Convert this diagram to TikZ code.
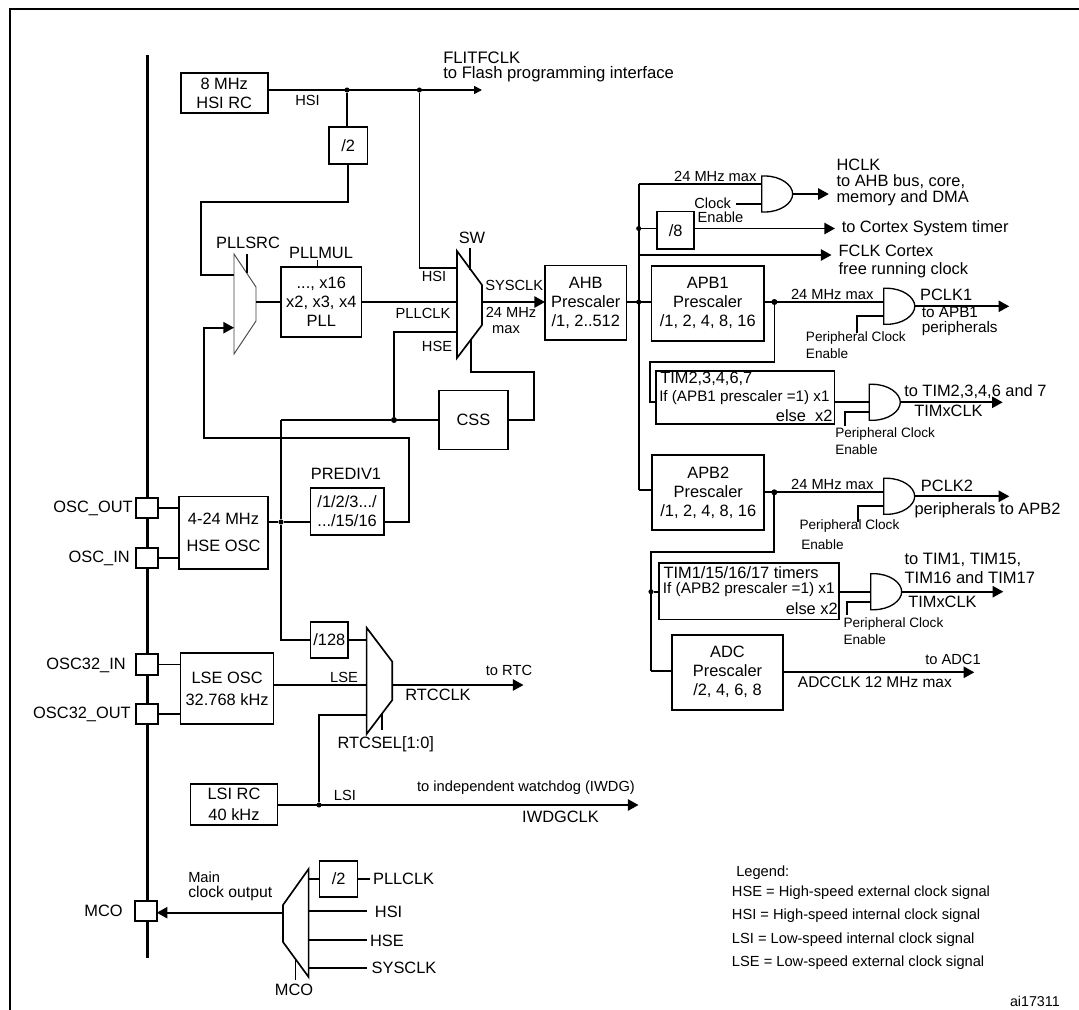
\documentclass[tikz,border=0pt]{standalone}
\usepackage{fontspec}
\setmainfont{Liberation Sans}
\usetikzlibrary{arrows.meta}

\begin{document}
\begin{tikzpicture}[
    x=0.75pt, y=-0.75pt,
    box/.style={draw, rectangle, line width=1.25pt, inner sep=0pt, outer sep=0pt, fill=white, align=center, big},
    sz/.style 2 args={minimum width=#1*0.75pt, minimum height=#2*0.75pt},
    big/.style={font=\fontsize{12.3}{14.3}\selectfont},
    mid/.style={font=\fontsize{11}{12.5}\selectfont},
    small/.style={font=\fontsize{10.2}{12.7}\selectfont},
    txt/.style={inner sep=0pt, align=left},
    wire/.style={line width=1.25pt},
    arrow/.style={line width=1.25pt, -{Triangle[length=8pt, width=8.5pt]}},
    tick/.style={line width=1pt},
    mux/.style={draw, line width=1.25pt, fill=white, line join=miter},
    pad/.style={draw, rectangle, line width=1.4pt, fill=white, inner sep=0pt, outer sep=0pt},
    dot/.style={circle, fill, inner sep=0pt, outer sep=0pt, minimum size=3.8pt},
    andg/.pic={
        \draw[line width=1pt, fill=white] (0,0) -- (3,0) .. controls (19,0) and (31,9) .. (31,18)
            .. controls (31,27) and (19,36) .. (3,36) -- (0,36) -- cycle;
        \coordinate (-in) at (0,18);
        \coordinate (-out) at (31,18);
    }
]
    \useasboundingbox (0,0) rectangle (1079,1010);

    % Frame and pin bar
    \draw[line width=1.4pt] (9.6,1010) -- (9.6,9) -- (1079,9);
    \coordinate (bartop) at (147.4,55);
    \coordinate (barend) at (147.4,958);
    \draw[line width=2.4pt] (bartop) -- (barend);

    % Pads
    \node[pad, sz={22}{20}] (oscout) at (146.8,508) {};
    \node[pad, sz={22}{20}] (oscin) at (146.8,558) {};
    \node[pad, sz={22}{21}] (osc32in) at (146.8,664.5) {};
    \node[pad, sz={22}{20}] (osc32out) at (146.8,714) {};
    \node[pad, sz={22}{20}] (mcopad) at (145.8,911) {};
    \node[txt, big, anchor=east] (oscoutl) at (133,508) {OSC\_OUT};
    \node[txt, big, anchor=east] (oscinl) at (130,558) {OSC\_IN};
    \node[txt, big, anchor=east] (osc32inl) at (126,665) {OSC32\_IN};
    \node[txt, big, anchor=east] (osc32outl) at (131,714) {OSC32\_OUT};
    \node[txt, big, anchor=east] (mcol) at (123,911) {MCO};

    % HSI
    \node[box, sz={87}{40}] (hsirc) at (224.2,93) {8 MHz\\HSI RC};
    \node[box, sz={38.4}{37}] (divtwo) at (348.2,145.5) {/2};
    \node[dot] (hsidot) at (347,90) {};
    \node[dot] (flashdot) at (419.4,90) {};
    \coordinate (flitf) at (482,90);
    \draw[line width=1.25pt, -{Triangle[length=6pt, width=6pt]}] (hsirc.east |- hsidot) -- (flitf);
    \draw[wire] (hsidot) -- (hsidot |- divtwo.north);
    \node[txt, mid] (hsil) at (307.5,100) {HSI};
    \node[txt, big, anchor=west, font=\fontsize{12.5}{11.2}\selectfont] (flitfl) at (443,67) {FLITFCLK\\to Flash programming interface};

    % PLL
    \coordinate (srchsi) at (234,275);
    \coordinate (srchse) at (234,327.7);
    \coordinate (srcout) at (256,302);
    \coordinate (divcor) at (201,202);
    \draw[wire] (divtwo.south) |- (divcor) |- (srchsi);
    \draw[line width=0.7pt, fill=white, draw=black!75] (234,254) -- (256,287) -- (256,321) -- (234,354) -- cycle;
    \coordinate (srctop) at (247,254);
    \coordinate (srctick) at (247,273);
    \draw[tick] (srctop) -- (srctick);
    \node[txt, big] (pllsrcl) at (248,243) {PLLSRC};
    \node[box, sz={80.6}{70}] (pll) at (321.3,302) {..., x16\\x2, x3, x4\\PLL};
    \draw[wire] (srcout) -- (pll.west);
    \node[txt, big] (pllmull) at (321,253) {PLLMUL};
    \coordinate (multick) at (317.5,260);
    \draw[tick] (multick) -- (multick |- pll.north);

    % SW multiplexer
    \coordinate (swhsi) at (457,268);
    \coordinate (swhse) at (457,332);
    \coordinate (swout) at (482,302);
    \coordinate (swcss) at (470.7,340);
    \draw[wire] (flashdot) |- (swhsi);
    \draw[wire] (pll.east) -- (swout -| swhsi);
    \draw[mux] (457,251) -- (482,285) -- (482,325) -- (457,358) -- cycle;
    \coordinate (swtop) at (470,248);
    \coordinate (swtick) at (470,270);
    \draw[tick] (swtop) -- (swtick);
    \node[txt, big] (swl) at (472,238) {SW};
    \node[txt, mid] (hsil2) at (434,276) {HSI};
    \node[txt, mid] (pllclkl) at (423,313) {PLLCLK};
    \node[txt, mid] (hsel) at (437,346) {HSE};
    \node[txt, mid, anchor=west] (sysclkl) at (485,285.7) {SYSCLK};
    \node[txt, mid, anchor=west] (mhzl) at (485.5,312.7) {24 MHz};
    \node[txt, mid] (maxl) at (506,330) {max};

    % CSS
    \node[box, sz={68.4}{59.3}] (css) at (473.5,420) {CSS};
    \node[dot, minimum size=4.5pt] (cssdot) at (394,420) {};
    \coordinate (csscor) at (281,420);
    \coordinate (cssup) at (534,371.7);
    \draw[wire] (csscor) -- (cssdot) -- (css.west);
    \draw[wire] (cssdot) |- (swhse);
    \draw[wire] (css.east) -| (cssup) -| (swcss);

    % HSE
    \node[box, sz={89.6}{72.3}] (hseosc) at (223.5,532.8) {4-24 MHz\\[6pt]HSE OSC};
    \node[box, sz={73.4}{47}] (prediv) at (347.1,511.5) {/1/2/3.../\\.../15/16};
    \node[txt, big] (predivl) at (346,474) {PREDIV1};
    \node[dot] (hsedot) at (281,522) {};
    \coordinate (preout) at (408.7,522);
    \coordinate (preret) at (204,438);
    \draw[wire] (hseosc.east |- hsedot) -- (hsedot) -- (prediv.west |- hsedot);
    \draw[arrow] (prediv.east |- hsedot) -- (preout) |- (preret) |- (srchse);
    \draw[wire] (hsedot) -- (csscor);
    \draw[wire] (oscout.east) -- (oscout.east -| hseosc.west);
    \draw[wire] (oscin.east) -- (oscin.east -| hseosc.west);

    % LSE and RTC
    \node[box, sz={37.9}{36}] (divrtc) at (329.3,640) {/128};
    \node[box, sz={93}{71.6}] (lseosc) at (227.1,688.5) {LSE OSC\\[2pt]32.768 kHz};
    \coordinate (rtchse) at (366.6,640);
    \coordinate (rtclse) at (366.6,685);
    \coordinate (rtclsi) at (366.6,715);
    \coordinate (rtcout) at (392.3,685);
    \coordinate (rtctip) at (523.5,685);
    \draw[wire] (hsedot) |- (divrtc.west);
    \draw[wire] (divrtc.east) -- (rtchse);
    \draw[wire] (lseosc.east |- rtclse) -- (rtclse);
    \draw[mux] (366.6,627.7) -- (392.3,661.7) -- (392.3,700) -- (366.6,734) -- cycle;
    \coordinate (rtcslant) at (382,713);
    \coordinate (rtctick) at (382,730);
    \draw[tick] (rtcslant) -- (rtctick);
    \draw[arrow] (rtcout) -- (rtctip);
    \draw[wire] (osc32in.east) -- (osc32in.east -| lseosc.west);
    \draw[wire] (osc32out.east) -- (osc32out.east -| lseosc.west);
    \node[txt, mid] (lsel) at (344,677.7) {LSE};
    \node[txt, mid] (rtcl) at (509,670.7) {to RTC};
    \node[txt, big] (rtcclkl) at (438,695) {RTCCLK};
    \node[txt, big] (rtcsell) at (385.8,744) {RTCSEL[1:0]};

    % LSI
    \node[box, sz={87}{41}] (lsirc) at (234,804.5) {LSI RC\\[1pt]40 kHz};
    \node[dot] (lsidot) at (319,805) {};
    \coordinate (lsitip) at (638.5,805);
    \draw[arrow] (lsirc.east |- lsidot) -- (lsitip);
    \draw[wire] (lsidot) |- (rtclsi);
    \node[txt, mid] (lsil) at (345,795) {LSI};
    \node[txt, mid] (iwdgl) at (526,788) {to independent watchdog (IWDG)};
    \node[txt, big] (iwdgclk) at (560.5,817) {IWDGCLK};

    % MCO
    \node[box, sz={38}{36}] (divmco) at (338.6,879) {/2};
    \coordinate (mcoout) at (283,912.7);
    \coordinate (mcopll) at (308.6,879);
    \coordinate (mcohsi) at (308.6,911);
    \coordinate (mcohse) at (308.6,940.3);
    \coordinate (mcosys) at (308.6,967.7);
    \coordinate (pllend) at (370,879);
    \coordinate (hsiend) at (367,911);
    \coordinate (hseend) at (367,940.3);
    \coordinate (sysend) at (367,967.7);
    \draw[arrow] (mcoout) -- (mcoout -| mcopad.east);
    \draw[wire] (mcopll) -- (divmco.west);
    \draw[wire] (divmco.east) -- (pllend);
    \draw[wire] (mcohsi) -- (hsiend);
    \draw[wire] (mcohse) -- (hseend);
    \draw[wire] (mcosys) -- (sysend);
    \draw[mux] (308.6,869) -- (283,905) -- (283,942) -- (308.6,977) -- cycle;
    \coordinate (mcoslant) at (295.5,959);
    \coordinate (mcotick) at (295.5,980);
    \draw[tick] (mcoslant) -- (mcotick);
    \node[txt, mid, anchor=west] (mainl) at (188,877) {Main};
    \node[txt, mid, anchor=west, font=\fontsize{11.8}{13}\selectfont] (outl) at (188,893) {clock output};
    \node[txt, big, anchor=west] (pllclkm) at (372.8,879) {PLLCLK};
    \node[txt, big] (hsim) at (388.6,912) {HSI};
    \node[txt, big] (hsem) at (387,941) {HSE};
    \node[txt, big, anchor=west] (sysm) at (371.4,968) {SYSCLK};
    \node[txt, big] (mcom) at (294,990) {MCO};

    % AHB prescaler and trunk
    \coordinate (sysin) at (545,302);
    \node[box, sz={81.6}{74.3}] (ahb) at (585.8,302.8) {AHB\\Prescaler\\/1, 2..512};
    \draw[arrow] (swout) -- (sysin);
    \node[dot] (apbdot) at (638.7,302) {};
    \node[box, sz={112.3}{75}] (apba) at (707.8,303.2) {APB1\\Prescaler\\/1, 2, 4, 8, 16};
    \draw[wire] (ahb.east |- apbdot) -- (apba.west |- apbdot);
    \coordinate (trtop) at (638.7,184.3);
    \coordinate (trbot) at (638.7,490);
    \node[dot] (divdot) at (638.7,228.5) {};
    \coordinate (fclkfrom) at (638.7,255);
    \draw[wire] (trtop) -- (trbot);

    % HCLK
    \pic (gatea) at (761.7,176) {andg};
    \coordinate (ceend) at (736,203.7);
    \coordinate (hclktip) at (828.8,194);
    \draw[wire] (trtop) -- (gatea-in |- trtop);
    \draw[wire] (ceend) -- (gatea-in |- ceend);
    \draw[arrow] (gatea-out) -- (hclktip);
    \node[txt, mid] (mhza) at (715.3,176) {24 MHz max};
    \node[txt, mid] (clkl) at (712.6,203) {Clock};
    \node[txt, mid] (enal) at (720.5,217) {Enable};
    \node[txt, big, anchor=west, font=\fontsize{12.3}{12}\selectfont] (hclkl) at (836.3,182.5) {HCLK\\to AHB bus, core,\\memory and DMA};

    % Cortex timer and FCLK
    \node[box, sz={36.8}{37.3}] (diveight) at (675.6,230.3) {/8};
    \coordinate (cortip) at (835,228.5);
    \coordinate (fclktip) at (831.5,255);
    \draw[wire] (divdot) -- (diveight.west |- divdot);
    \draw[arrow] (diveight.east |- divdot) -- (cortip);
    \draw[arrow] (fclkfrom) -- (fclktip);
    \node[txt, big, anchor=west] (corl) at (841.5,228) {to Cortex System timer};
    \node[txt, big, anchor=west] (fclkl) at (838.4,251) {FCLK Cortex};
    \node[txt, big, anchor=west] (frl) at (838.4,270) {free running clock};

    % APB1 branch
    \pic (gateb) at (883.8,288.3) {andg};
    \node[dot, minimum size=4.5pt] (apbadot) at (774.4,302) {};
    \coordinate (enbelow) at (857.3,333);
    \coordinate (enbin) at (883.8,316.3);
    \coordinate (pclkatip) at (1009.2,306.3);
    \draw[wire] (apba.east |- apbadot) -- (gateb-in |- apbadot);
    \draw[wire] (enbin) -| (enbelow);
    \draw[arrow] (gateb-out) -- (pclkatip);
    \node[txt, mid] (mhzb) at (832.2,294) {24 MHz max};
    \node[txt, big, anchor=west] (pclkal) at (919.9,295) {PCLK1};
    \node[txt, mid, anchor=west, font=\fontsize{11.5}{11.5}\selectfont] (toapba) at (921.5,321.5) {to APB1\\peripherals};
    \node[txt, small, anchor=west] (enbl) at (805.7,345.5) {Peripheral Clock\\Enable};

    % TIM2,3,4,6,7
    \node[box, sz={178.3}{53.6}] (tima) at (745.2,397.5) {};
    \coordinate (timacor) at (775.5,361.7);
    \coordinate (timabend) at (650,361.7);
    \coordinate (timain) at (650,401.7);
    \coordinate (enctip) at (845,426);
    \coordinate (encin) at (869.3,411.7);
    \coordinate (timatip) at (1002.7,402.3);
    \draw[wire] (apbadot) |- (timabend) -- (timain) -- (timain -| tima.west);
    \pic (gatec) at (869.3,384.3) {andg};
    \draw[wire] (tima.east |- gatec-in) -- (gatec-in);
    \draw[wire] (encin) -| (enctip);
    \draw[arrow] (gatec-out) -- (timatip);
    \node[txt, big, anchor=west] (timal) at (660,379.3) {TIM2,3,4,6,7};
    \node[txt, mid, anchor=west, font=\fontsize{11.4}{13}\selectfont] (ifal) at (659,397.5) {If (APB1 prescaler =1) x1};
    \node[txt, big, anchor=east] (elsea) at (832.7,416) {else\ \ x2};
    \node[txt, big, anchor=west] (totima) at (904,391.7) {to TIM2,3,4,6 and 7};
    \node[txt, big, anchor=west] (timclka) at (914,411) {TIMxCLK};
    \node[txt, small, anchor=west] (encl) at (835,441) {Peripheral Clock\\Enable};

    % APB2 branch
    \node[box, sz={112}{75}] (apbb) at (708.3,492.5) {APB2\\Prescaler\\/1, 2, 4, 8, 16};
    \draw[wire] (trbot) -- (trbot -| apbb.west);
    \pic (gated) at (883.7,478.3) {andg};
    \node[dot, minimum size=4.5pt] (apbbdot) at (774.3,492.3) {};
    \coordinate (endbelow) at (857.7,521.7);
    \coordinate (endin) at (883.7,506);
    \coordinate (pclkbtip) at (1009.3,496.3);
    \draw[wire] (apbb.east |- apbbdot) -- (gated-in |- apbbdot);
    \draw[wire] (endin) -| (endbelow);
    \draw[arrow] (gated-out) -- (pclkbtip);
    \node[txt, mid] (mhzc) at (832.3,484) {24 MHz max};
    \node[txt, big, anchor=west] (pclkbl) at (920.7,485.7) {PCLK2};
    \node[txt, big, anchor=west] (toapbb) at (914.3,510.7) {peripherals to APB2};
    \node[txt, small, anchor=west] (endl) at (799.3,526) {Peripheral Clock};
    \node[txt, small, anchor=west] (endl2) at (801,545) {Enable};

    % TIM1/15/16/17
    \node[box, sz={179.4}{56.7}] (timb) at (749,591.3) {};
    \node[dot] (timbdot) at (651,591.7) {};
    \coordinate (timbcor) at (651,552);
    \coordinate (adcin) at (651,670.7);
    \coordinate (enetip) at (846.7,615);
    \coordinate (enein) at (870.7,601.7);
    \coordinate (timbtip) at (1003.3,591.7);
    \draw[wire] (apbbdot) |- (timbcor) -- (adcin);
    \draw[wire] (timbdot) -- (timb.west |- timbdot);
    \pic (gatee) at (870.7,573.7) {andg};
    \draw[wire] (timb.east |- gatee-in) -- (gatee-in);
    \draw[wire] (enein) -| (enetip);
    \draw[arrow] (gatee-out) -- (timbtip);
    \node[txt, big, anchor=west] (timbl) at (663.3,572.5) {TIM1/15/16/17 timers};
    \node[txt, mid, anchor=west, font=\fontsize{11.5}{13}\selectfont] (ifbl) at (662.7,589.7) {If (APB2 prescaler =1) x1};
    \node[txt, big, anchor=east] (elseb) at (838,609) {else x2};
    \node[txt, big, anchor=west, font=\fontsize{12.4}{14.2}\selectfont] (totimb) at (904.3,568.5) {to TIM1, TIM15,\\TIM16 and TIM17};
    \node[txt, big, anchor=west] (timclkb) at (908,602) {TIMxCLK};
    \node[txt, small, anchor=west] (enel) at (843.3,631.5) {Peripheral Clock\\Enable};

    % ADC
    \node[box, sz={111.6}{75}] (adc) at (727.5,672.2) {ADC\\Prescaler\\/2, 4, 6, 8};
    \coordinate (adctip) at (974.3,672.3);
    \draw[wire] (adcin) -- (adcin -| adc.west);
    \draw[arrow] (adc.east |- adctip) -- (adctip);
    \node[txt, mid] (toadc) at (953,659) {to ADC1};
    \node[txt, mid, anchor=west, font=\fontsize{11.6}{13}\selectfont] (adcclk) at (797.7,682) {ADCCLK 12 MHz max};

    % Legend
    \node[txt, mid, anchor=west] (legend) at (736,872.7) {Legend:};
    \node[txt, mid, anchor=west] (leghse) at (731.7,893) {HSE = High-speed external clock signal};
    \node[txt, mid, anchor=west] (leghsi) at (731.7,916) {HSI = High-speed internal clock signal};
    \node[txt, mid, anchor=west] (leglsi) at (731.7,940) {LSI = Low-speed internal clock signal};
    \node[txt, mid, anchor=west] (leglse) at (731.7,963) {LSE = Low-speed external clock signal};
    \node[txt, mid, anchor=east, font=\fontsize{10.7}{12}\selectfont] (figid) at (1060,1001) {ai17311};

\end{tikzpicture}
\end{document}
